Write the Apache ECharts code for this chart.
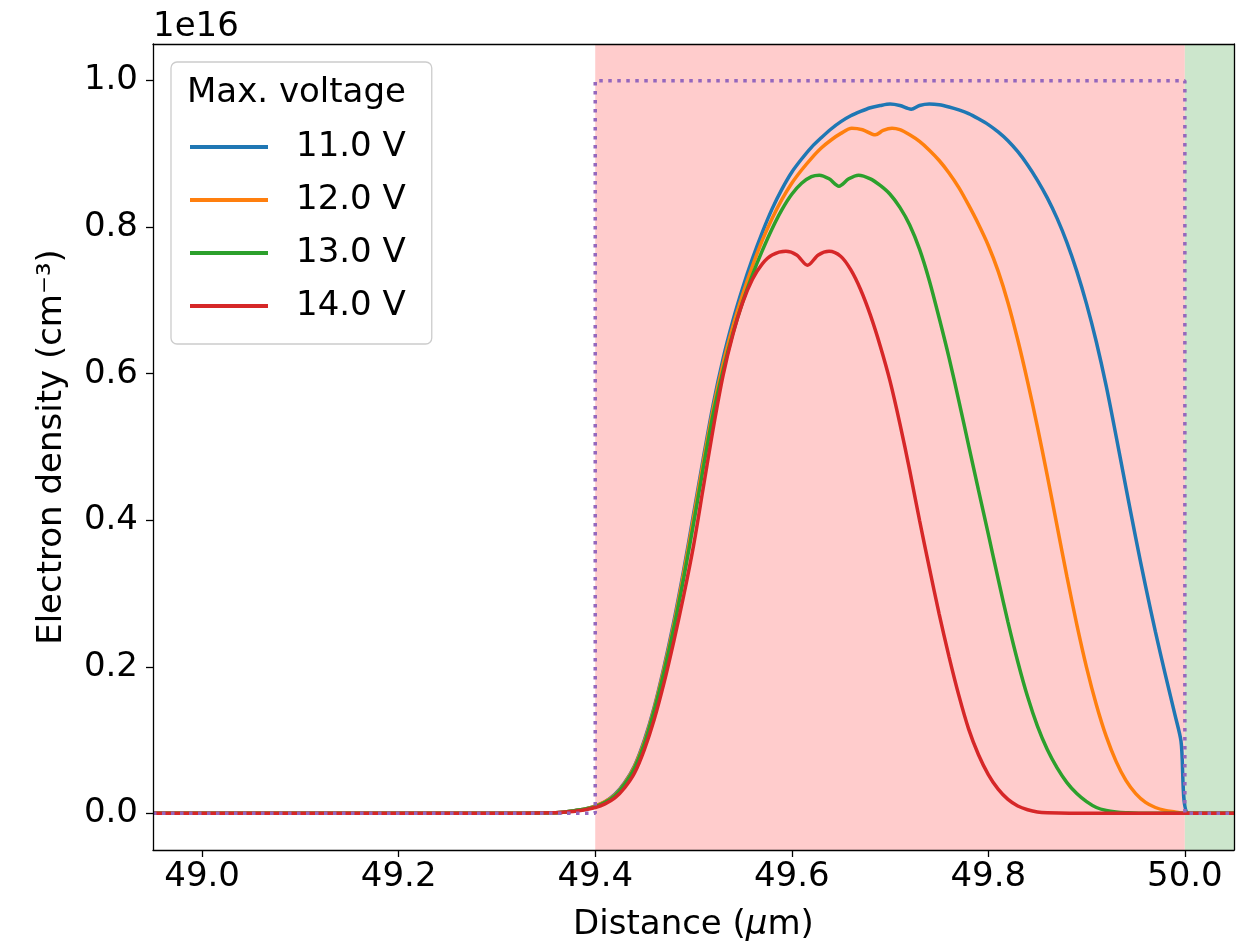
<!DOCTYPE html>
<html>
<head>
<meta charset="utf-8">
<script src="https://cdn.jsdelivr.net/npm/echarts@6/dist/echarts.min.js"></script>
<style>
html,body{margin:0;padding:0;background:#fff;}
#chart{width:1247px;height:947px;}
</style>
</head>
<body>
<div id="chart"></div>
<script>
// ---- data: [x (µm), electron density (1e16 cm^-3)] ----
const seriesNames = ['11.0 V', '12.0 V', '13.0 V', '14.0 V'];
const xTicks = [49.0, 49.2, 49.4, 49.6, 49.8, 50.0];
const yTicks = [0.0, 0.2, 0.4, 0.6, 0.8, 1.0];

const blue = [[48.95,0],[49.30,0],[49.36,0.001],[49.37,0.002],[49.38,0.004],[49.39,0.006],[49.40,0.010],[49.41,0.016],[49.42,0.026],[49.43,0.042],[49.44,0.065],[49.45,0.100],[49.46,0.145],[49.47,0.200],[49.48,0.262],[49.49,0.332],[49.50,0.408],[49.51,0.485],[49.52,0.558],[49.53,0.620],[49.54,0.672],[49.55,0.717],[49.56,0.757],[49.57,0.793],[49.58,0.825],[49.59,0.852],[49.60,0.875],[49.61,0.893],[49.62,0.909],[49.63,0.922],[49.64,0.934],[49.65,0.944],[49.66,0.952],[49.67,0.958],[49.68,0.963],[49.69,0.966],[49.70,0.968],[49.71,0.966],[49.7215,0.961],[49.73,0.966],[49.74,0.968],[49.75,0.967],[49.76,0.964],[49.77,0.960],[49.78,0.955],[49.79,0.948],[49.80,0.940],[49.81,0.930],[49.82,0.918],[49.83,0.903],[49.84,0.885],[49.85,0.864],[49.86,0.840],[49.87,0.812],[49.88,0.779],[49.89,0.740],[49.90,0.695],[49.91,0.643],[49.92,0.583],[49.93,0.515],[49.94,0.445],[49.95,0.376],[49.96,0.310],[49.97,0.248],[49.98,0.190],[49.99,0.134],[49.996,0.099],[50.004,0],[50.05,0]];

const orange = [[48.95,0],[49.30,0],[49.36,0.001],[49.37,0.002],[49.38,0.004],[49.39,0.006],[49.40,0.010],[49.41,0.016],[49.42,0.025],[49.43,0.041],[49.44,0.064],[49.45,0.098],[49.46,0.143],[49.47,0.197],[49.48,0.258],[49.49,0.328],[49.50,0.403],[49.51,0.480],[49.52,0.552],[49.53,0.613],[49.54,0.664],[49.55,0.708],[49.56,0.747],[49.57,0.782],[49.58,0.812],[49.59,0.838],[49.60,0.860],[49.61,0.878],[49.62,0.894],[49.63,0.908],[49.64,0.919],[49.65,0.928],[49.661,0.935],[49.672,0.933],[49.685,0.926],[49.693,0.932],[49.702,0.935],[49.71,0.933],[49.72,0.926],[49.73,0.917],[49.74,0.905],[49.75,0.891],[49.76,0.874],[49.77,0.854],[49.78,0.830],[49.79,0.804],[49.80,0.775],[49.81,0.740],[49.82,0.697],[49.83,0.646],[49.84,0.589],[49.85,0.527],[49.86,0.461],[49.87,0.392],[49.88,0.323],[49.89,0.258],[49.90,0.199],[49.91,0.148],[49.92,0.105],[49.93,0.071],[49.94,0.045],[49.95,0.027],[49.96,0.015],[49.97,0.008],[49.98,0.004],[49.99,0.002],[50.00,0],[50.05,0]];

const green = [[48.95,0],[49.30,0],[49.36,0.001],[49.37,0.002],[49.38,0.004],[49.39,0.006],[49.40,0.009],[49.41,0.015],[49.42,0.024],[49.43,0.040],[49.44,0.062],[49.45,0.095],[49.46,0.140],[49.47,0.193],[49.48,0.253],[49.49,0.321],[49.50,0.395],[49.51,0.472],[49.52,0.545],[49.53,0.604],[49.54,0.655],[49.55,0.698],[49.56,0.735],[49.57,0.768],[49.58,0.798],[49.59,0.824],[49.60,0.845],[49.61,0.860],[49.62,0.869],[49.628,0.871],[49.638,0.866],[49.648,0.856],[49.658,0.866],[49.668,0.871],[49.68,0.866],[49.69,0.857],[49.70,0.845],[49.71,0.827],[49.72,0.803],[49.73,0.770],[49.74,0.727],[49.75,0.676],[49.76,0.622],[49.77,0.563],[49.78,0.502],[49.79,0.441],[49.80,0.381],[49.81,0.320],[49.82,0.261],[49.83,0.207],[49.84,0.159],[49.85,0.119],[49.86,0.087],[49.87,0.062],[49.88,0.042],[49.89,0.027],[49.90,0.016],[49.91,0.008],[49.92,0.004],[49.93,0.002],[49.94,0.001],[49.96,0],[50.05,0]];

const red = [[48.95,0],[49.30,0],[49.36,0.001],[49.37,0.002],[49.38,0.003],[49.39,0.005],[49.40,0.008],[49.41,0.013],[49.42,0.021],[49.43,0.035],[49.44,0.055],[49.45,0.087],[49.46,0.128],[49.47,0.178],[49.48,0.235],[49.49,0.297],[49.50,0.365],[49.51,0.445],[49.52,0.525],[49.53,0.597],[49.54,0.653],[49.55,0.697],[49.56,0.729],[49.57,0.750],[49.58,0.762],[49.594,0.767],[49.605,0.762],[49.616,0.748],[49.627,0.762],[49.638,0.767],[49.65,0.760],[49.66,0.742],[49.67,0.715],[49.68,0.680],[49.69,0.638],[49.70,0.590],[49.71,0.532],[49.72,0.468],[49.73,0.400],[49.74,0.335],[49.75,0.272],[49.76,0.214],[49.77,0.161],[49.78,0.115],[49.79,0.080],[49.80,0.053],[49.81,0.033],[49.82,0.019],[49.83,0.010],[49.84,0.005],[49.85,0.002],[49.86,0.001],[49.90,0],[50.05,0]];

const doping = [[48.95,0],[49.40,0],[49.40,1.0],[50.00,1.0],[50.00,0],[50.05,0]];

const pinkRegion = [49.4, 50.0];
const greenRegion = [50.0, 50.05];

const colors = ['#1f77b4', '#ff7f0e', '#2ca02c', '#d62728'];
// ---------------------------------------------------

const FONT = 'DejaVu Sans';
const FS = 34;
const curves = [blue, orange, green, red];

const chart = echarts.init(document.getElementById('chart'), null, {renderer: 'canvas'});

const axisLineStyle = {color: '#000', width: 1.3};

const series = [
  {
    type: 'line', name: '_regions', data: [], z: 1, silent: true,
    markArea: {
      silent: true,
      itemStyle: {borderWidth: 0},
      data: [
        [{xAxis: pinkRegion[0], itemStyle: {color: '#ffcccc'}}, {xAxis: pinkRegion[1]}],
        [{xAxis: greenRegion[0], itemStyle: {color: '#cce6cc'}}, {xAxis: greenRegion[1]}]
      ]
    }
  }
];
curves.forEach((d, i) => {
  series.push({
    type: 'line', name: seriesNames[i], data: d, showSymbol: false, symbol: 'none',
    smooth: 0.3,
    lineStyle: {color: colors[i], width: 3.5}, itemStyle: {color: colors[i]},
    z: 3 + i, animation: false
  });
});
series.push({
  type: 'line', name: '_doping', data: doping, showSymbol: false, symbol: 'none',
  lineStyle: {color: '#9467bd', width: 3.5, type: [3.5, 5.5]}, z: 8, animation: false
});

const option = {
  animation: false,
  backgroundColor: '#fff',
  grid: {left: 153, right: 13, top: 44, bottom: 93, containLabel: false},
  xAxis: [
    {
      type: 'value', min: 48.95, max: 50.05, z: 10,
      axisLine: {show: true, onZero: false, lineStyle: axisLineStyle},
      axisTick: {show: true, length: 7, lineStyle: axisLineStyle, customValues: xTicks},
      axisLabel: {customValues: xTicks, formatter: v => v.toFixed(1), fontSize: FS, fontFamily: FONT, color: '#000', margin: 10},
      splitLine: {show: false},
      name: 'Distance ({it|μ}m)', nameLocation: 'middle', nameGap: 58,
      nameTextStyle: {fontSize: FS, fontFamily: FONT, color: '#000',
        rich: {it: {fontSize: FS, fontFamily: FONT, fontStyle: 'italic', color: '#000'}}}
    },
    {
      type: 'value', min: 48.95, max: 50.05, position: 'top', z: 10,
      axisLine: {show: true, onZero: false, lineStyle: axisLineStyle},
      axisTick: {show: false}, axisLabel: {show: false}, splitLine: {show: false}
    }
  ],
  yAxis: [
    {
      type: 'value', min: -0.05, max: 1.05, z: 10,
      axisLine: {show: true, onZero: false, lineStyle: axisLineStyle},
      axisTick: {show: true, length: 7, lineStyle: axisLineStyle, customValues: yTicks},
      axisLabel: {customValues: yTicks, formatter: v => v.toFixed(1), fontSize: FS, fontFamily: FONT, color: '#000', margin: 15},
      splitLine: {show: false},
      name: 'Electron density (cm⁻³)', nameLocation: 'middle', nameGap: 84,
      nameTextStyle: {fontSize: FS, fontFamily: FONT, color: '#000'}
    },
    {
      type: 'value', min: -0.05, max: 1.05, position: 'right', z: 10,
      axisLine: {show: true, onZero: false, lineStyle: axisLineStyle},
      axisTick: {show: false}, axisLabel: {show: false}, splitLine: {show: false}
    }
  ],
  legend: {
    orient: 'vertical', left: 171, top: 62,
    padding: [68, 26, 21, 19],
    icon: 'rect',
    itemWidth: 78, itemHeight: 4, itemGap: 19,
    backgroundColor: 'rgba(255,255,255,0.8)', borderColor: '#cccccc', borderWidth: 1.3, borderRadius: 6,
    textStyle: {fontSize: FS, fontFamily: FONT, color: '#000', padding: [0, 0, 0, 23], lineHeight: 34},
    data: seriesNames,
    selectedMode: false,
    z: 20
  },
  graphic: [
    {type: 'text', left: 153, top: 10, z: 100, style: {text: '1e16', fontSize: FS, fontFamily: FONT, fill: '#000'}},
    {type: 'text', left: 187, top: 76, z: 100, style: {text: 'Max. voltage', fontSize: FS, fontFamily: FONT, fill: '#000'}}
  ],
  series: series
};
chart.setOption(option);
</script>
</body>
</html>
